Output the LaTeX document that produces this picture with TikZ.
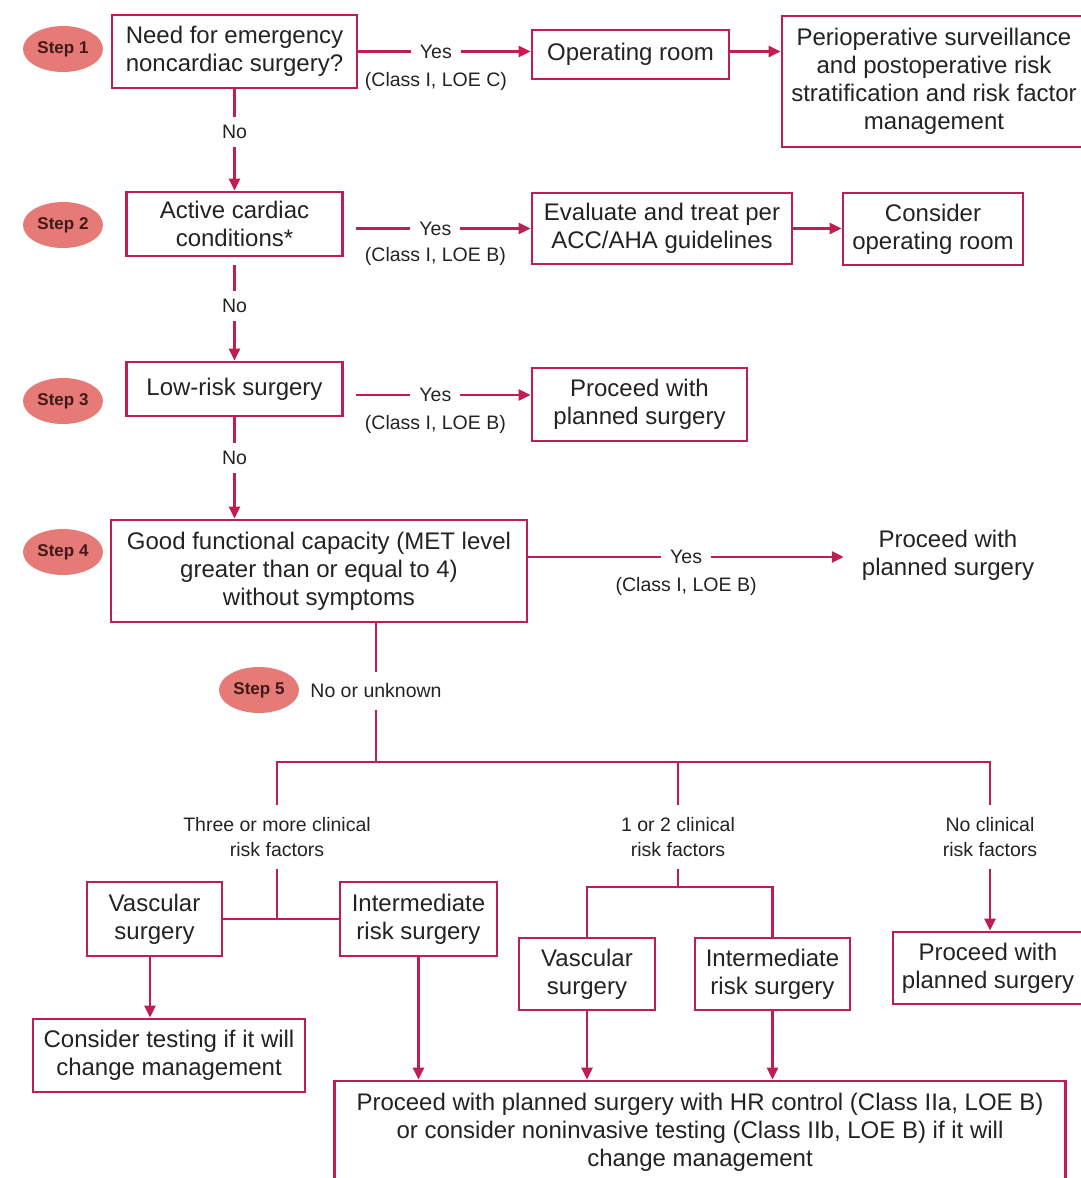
\documentclass[tikz,border=0pt]{standalone}
\usepackage{fontspec}
\setmainfont{Liberation Sans}
\usetikzlibrary{arrows.meta,shapes.geometric}
\definecolor{flow}{RGB}{192,30,80}
\definecolor{stepfill}{RGB}{230,122,118}
\definecolor{ink}{RGB}{35,35,35}
\definecolor{stepink}{RGB}{65,25,25}
\begin{document}
\begin{tikzpicture}[x=1pt,y=-1pt,
  box/.style={draw=flow, line width=2.9pt, fill=white, inner sep=0pt, align=center,
    text=ink, font=\fontsize{24}{28}\selectfont},
  plain/.style={inner ysep=0pt, inner xsep=18pt, align=center, text=ink,
    font=\fontsize{24}{28}\selectfont},
  lbl/.style={fill=white, text=ink, font=\fontsize{19.5}{25}\selectfont,
    inner xsep=9pt, inner ysep=8pt},
  cls/.style={text=ink, font=\fontsize{19.5}{25}\selectfont, inner sep=0pt},
  risk/.style={text=ink, font=\fontsize{19.5}{25}\selectfont, align=center,
    inner sep=0pt, minimum height=64pt},
  stepmark/.style={ellipse, fill=stepfill, minimum width=80pt, minimum height=46pt,
    inner sep=0pt, text=stepink, font=\bfseries\fontsize{17}{17}\selectfont},
  conn/.style={draw=flow, line width=2.9pt},
  arr/.style={conn, -{Triangle[length=12pt,width=11pt]}},
]
\useasboundingbox (0,0) rectangle (1081,1178);
\clip (0,0) rectangle (1081,1178);
\fill[white] (0,0) rectangle (1081,1178);

% step markers
\node[stepmark] (s1) at (63,49) {Step 1};
\node[stepmark] (s2) at (63,225) {Step 2};
\node[stepmark] (s3) at (63,401) {Step 3};
\node[stepmark] (s4) at (63,552) {Step 4};
\node[stepmark] (s5) at (259,690) {Step 5};

% main decision column
\node[box, minimum width=245pt, minimum height=73pt] (q1) at (234.5,51.5)
  {Need for emergency\\noncardiac surgery?};
\node[box, minimum width=216pt, minimum height=64pt] (q2) at (234.5,224)
  {Active cardiac\\conditions*};
\node[box, minimum width=216pt, minimum height=54pt] (q3) at (234.5,389)
  {Low-risk surgery};
\node[box, minimum width=416pt, minimum height=102pt] (q4) at (319,571)
  {Good functional capacity (MET level\\greater than or equal to 4)\\without symptoms};

% outcomes on the right
\node[box, minimum width=197pt, minimum height=49pt] (or) at (630.5,54.5) {Operating room};
\node[box, minimum width=304pt, minimum height=131pt] (periop) at (934,81.5)
  {Perioperative surveillance\\and postoperative risk\\stratification and risk factor\\management};
\node[box, minimum width=260pt, minimum height=71pt] (eval) at (662,228.5)
  {Evaluate and treat per\\ACC/AHA guidelines};
\node[box, minimum width=180pt, minimum height=72pt] (consor) at (933,229)
  {Consider\\operating room};
\node[box, minimum width=215pt, minimum height=73pt] (proc3) at (639.5,404.5)
  {Proceed with\\planned surgery};
\node[plain] (proc4) at (948,555) {Proceed with\\planned surgery};

% "No" connectors
\draw[arr] (q1.south) -- node[lbl, pos=0.42] {No} (q2.north);
\draw[arr, shorten <=8pt] (q2.south) -- node[lbl, pos=0.47] {No} (q3.north);
\draw[arr] (q3.south) -- node[lbl, pos=0.40] {No} (q3.south |- q4.north);

% "Yes" connectors
\draw[arr] (q1.east) -- node[lbl, pos=0.45] {Yes}
  node[cls, pos=0.45, yshift=-30pt] {(Class I, LOE C)} (q1.east -| or.west);
\draw[arr] (q1.east -| or.east) -- (q1.east -| periop.west);
\draw[arr, shorten <=12pt] (q2.east |- eval.west) -- node[lbl, pos=0.49] {Yes}
  node[cls, pos=0.49, yshift=-28pt] {(Class I, LOE B)} (eval.west);
\draw[arr] (eval.east) -- (eval.east -| consor.west);
\draw[arr, shorten <=12pt] ([yshift=-6pt]q3.east) -- node[lbl, pos=0.49] {Yes}
  node[cls, pos=0.49, yshift=-29pt] {(Class I, LOE B)} ([yshift=-6pt]q3.east -| proc3.west);
\draw[arr] ([yshift=14pt]q4.east) -- node[lbl] {Yes}
  node[cls, yshift=-29pt] {(Class I, LOE B)} ([yshift=14pt]q4.east -| proc4.west);

% step 5 split
\coordinate (split) at (376,762);
\draw[conn] (q4.south -| split) -- node[lbl, pos=0.486, inner ysep=12pt] {No or unknown} (split);

\node[risk] (r3) at (277,837) {Three or more clinical\\risk factors};
\node[risk] (r12) at (678,837) {1 or 2 clinical\\risk factors};
\node[risk] (r0) at (990,837) {No clinical\\risk factors};

\draw[conn] (r3.north) -- (r3.north |- split) -- (r0.north |- split) -- (r0.north);
\draw[conn] (r12.north) -- (r12.north |- split);

% three or more risk factors
\node[box, minimum width=135pt, minimum height=74pt] (vascL) at (154.5,919) {Vascular\\surgery};
\node[box, minimum width=157pt, minimum height=74pt] (intL) at (418.5,919) {Intermediate\\risk surgery};
\node[box, minimum width=272pt, minimum height=73pt] (testL) at (169,1055.5)
  {Consider testing if it will\\change management};
\draw[conn] (vascL.east) -- (intL.west);
\draw[conn] (r3.south) -- (r3.south |- vascL.east);
\draw[arr] ([xshift=-4.5pt]vascL.south) -- ([xshift=-4.5pt]vascL.south |- testL.north);

% one or two risk factors
\coordinate (mid) at (678,887);
\node[box, minimum width=136pt, minimum height=72pt] (vascM) at (587,974) {Vascular\\surgery};
\node[box, minimum width=155pt, minimum height=72pt] (intM) at (772.5,974) {Intermediate\\risk surgery};
\draw[conn] (r12.south) -- (mid);
\draw[conn] (vascM.north) -- (vascM.north |- mid) -- (intM.north |- mid) -- (intM.north);

% no risk factors
\node[box, minimum width=190pt, minimum height=72pt] (procR) at (988,968) {Proceed with\\planned surgery};
\draw[arr] (r0.south) -- (r0.south |- procR.north);

% common outcome
\node[box, minimum width=731pt, minimum height=102pt] (bottom) at (700,1132)
  {Proceed with planned surgery with HR control (Class IIa, LOE B)\\or consider noninvasive testing (Class IIb, LOE B) if it will\\change management};
\draw[arr] (intL.south) -- (intL.south |- bottom.north);
\draw[arr] (vascM.south) -- (vascM.south |- bottom.north);
\draw[arr] (intM.south) -- (intM.south |- bottom.north);
\end{tikzpicture}
\end{document}
